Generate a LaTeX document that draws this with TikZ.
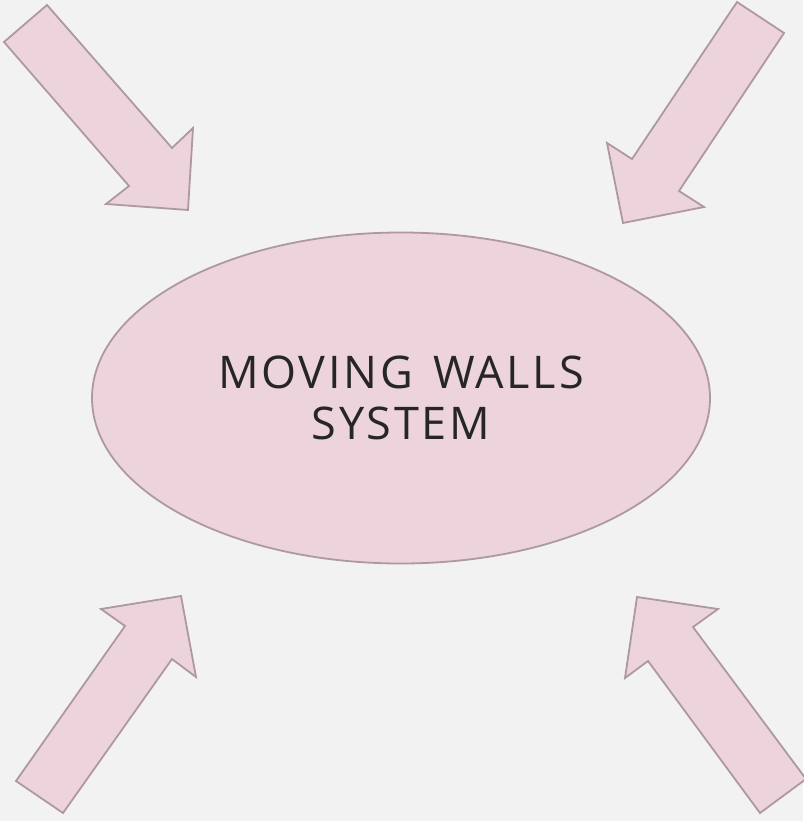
\documentclass[tikz,border=0pt]{standalone}
\usepackage{fontspec}
\setmainfont{Open Sans}
\newfontfamily\wallfont[LetterSpace=6,WordSpace=1.4]{Open Sans}
\usetikzlibrary{shapes.geometric}
\definecolor{pagegray}{HTML}{F2F2F2}
\definecolor{blushfill}{HTML}{EDD3DB}
\definecolor{blushline}{HTML}{AE98A2}
\definecolor{inkgray}{HTML}{262626}
\tikzset{
  blockarrow/.style={fill=blushfill,draw=blushline,line width=1.8pt,line join=miter},
}
\begin{document}
\begin{tikzpicture}[x=1pt,y=-1pt]
  \fill[pagegray] (0,0) rectangle (803,821);
  \useasboundingbox (0,0) rectangle (803,821);
  % centre ellipse
  \node[ellipse,fill=blushfill,draw=blushline,line width=1.8pt,
    minimum width=618pt,minimum height=331pt,inner sep=0pt,
    text=inkgray,align=center,font=\wallfont\fontsize{45}{51}\selectfont]
    (walls) at (401,398) {MOVING WALLS\\SYSTEM};
  % arrows pointing in
  \draw[blockarrow] (47,5) -- (172,148) -- (193,128) -- (188,210)
    -- (106,204) -- (129,186) -- (4,42) -- cycle;
  \draw[blockarrow] (737,2) -- (632,159) -- (607,143) -- (623,223)
    -- (704,207) -- (679,191) -- (784,33) -- cycle;
  \draw[blockarrow] (16,781) -- (125,626) -- (101,609) -- (181,596)
    -- (196,677) -- (172,659) -- (63,813) -- cycle;
  \draw[blockarrow] (760,813) -- (648,661) -- (625,678) -- (637,597)
    -- (718,609) -- (693,627) -- (806,779) -- cycle;
\end{tikzpicture}
\end{document}
